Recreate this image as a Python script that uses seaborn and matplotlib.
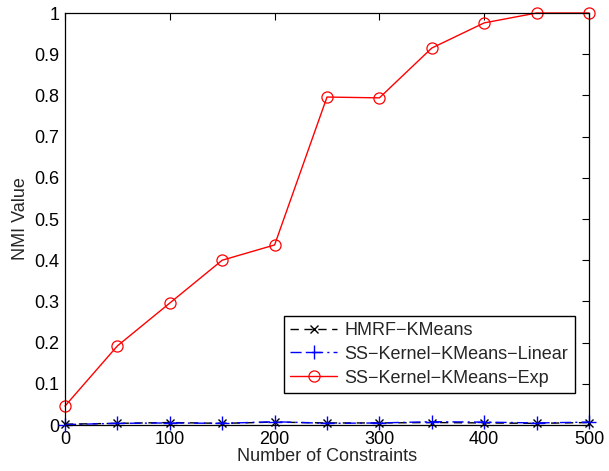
import matplotlib
matplotlib.use("Agg")
import matplotlib.pyplot as plt
import seaborn as sns
import numpy as np
import pandas as pd

constraints = [0, 50, 100, 150, 200, 250, 300, 350, 400, 450, 500]
hmrf = [0.002, 0.004, 0.006, 0.004, 0.007, 0.005, 0.005, 0.006, 0.005, 0.004, 0.006]
ss_linear = [0.001, 0.004, 0.005, 0.004, 0.008, 0.004, 0.005, 0.008, 0.007, 0.005, 0.007]
ss_exp = [0.046, 0.192, 0.296, 0.400, 0.437, 0.796, 0.794, 0.915, 0.976, 1.0, 1.0]
series_names = ["HMRF\u2212KMeans", "SS\u2212Kernel\u2212KMeans\u2212Linear", "SS\u2212Kernel\u2212KMeans\u2212Exp"]
yticks = [0, 0.1, 0.2, 0.3, 0.4, 0.5, 0.6, 0.7, 0.8, 0.9, 1]
ytick_labels = ["0", "0.1", "0.2", "0.3", "0.4", "0.5", "0.6", "0.7", "0.8", "0.9", "1"]
xticks = [0, 100, 200, 300, 400, 500]

sns.set_style("white")
plt.rcParams['font.family'] = ['Liberation Sans', 'DejaVu Sans']
plt.rcParams['axes.unicode_minus'] = True

FS = 13

fig = plt.figure(figsize=(6.09, 4.71), dpi=100)
ax = fig.add_axes([65/609, 46/471, 524/609, 412/471])

sns.lineplot(x=constraints, y=hmrf, ax=ax, color="black", marker="x", markersize=6,
             markeredgecolor="black", markeredgewidth=1.0, linewidth=1.0,
             label=series_names[0])
ax.lines[-1].set_linestyle((0, (6, 4)))
sns.lineplot(x=constraints, y=ss_linear, ax=ax, color="blue", marker="+", markersize=10,
             markeredgecolor="blue", markeredgewidth=1.0, linewidth=1.0,
             label=series_names[1])
ax.lines[-1].set_linestyle((0, (8, 3, 1.5, 3)))
sns.lineplot(x=constraints, y=ss_exp, ax=ax, color="red", marker="o", markersize=8,
             markerfacecolor="none", markeredgecolor="red", markeredgewidth=0.9,
             linewidth=1.0, label=series_names[2])
for ln in ax.lines:
    ln.set_clip_on(False)

ax.set_xlim(0, 500)
ax.set_ylim(0, 1)
ax.set_xticks(xticks)
ax.set_xticklabels([str(t) for t in xticks])
ax.set_yticks(yticks)
ax.set_yticklabels(ytick_labels)
ax.tick_params(direction="in", top=True, right=True, length=5, width=0.8,
               labelsize=FS, colors="black", pad=4)
for s in ax.spines.values():
    s.set_visible(True)
    s.set_color("black")
    s.set_linewidth(0.9)
ax.set_xlabel("Number of Constraints", fontsize=FS, labelpad=0)
ax.set_ylabel("NMI Value", fontsize=FS, labelpad=4)

leg = ax.legend(loc="lower right", bbox_to_anchor=(0.9725, 0.078), fontsize=FS,
                frameon=True, fancybox=False, edgecolor="black", framealpha=1,
                handlelength=2.6, borderpad=0.35, labelspacing=0.38, handletextpad=0.4,
                borderaxespad=0)
leg.get_frame().set_linewidth(1.0)

fig.savefig("out.png", dpi=100, facecolor="white")
